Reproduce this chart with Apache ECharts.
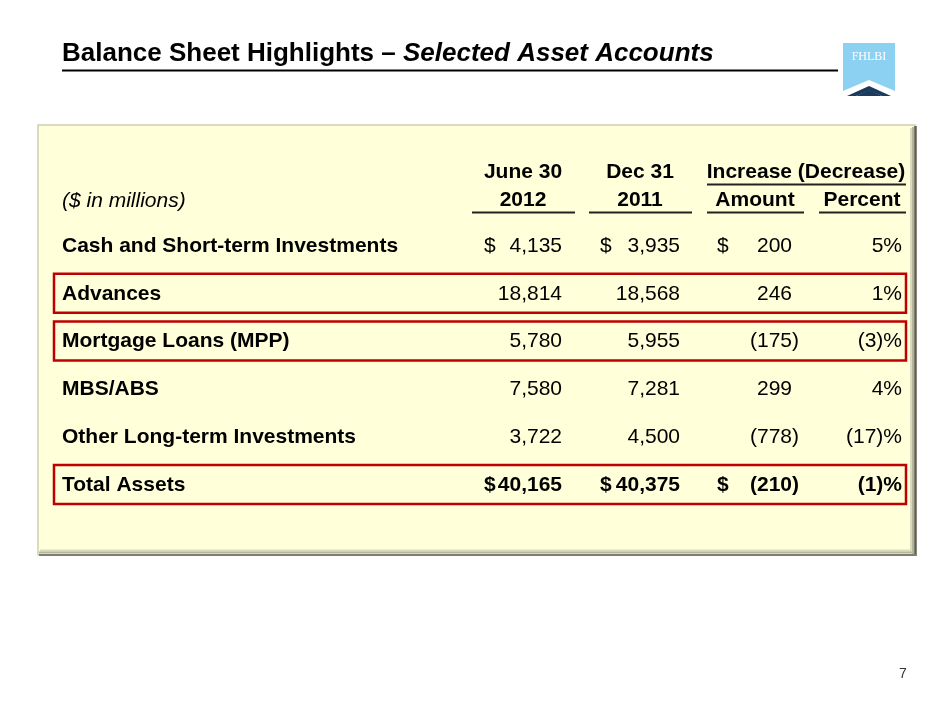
<!DOCTYPE html>
<html>
<head>
<meta charset="utf-8">
<script src="https://cdn.jsdelivr.net/npm/echarts@6/dist/echarts.min.js"></script>
<style>
html,body{margin:0;padding:0;background:#fff;}
#chart{width:940px;height:705px;}
</style>
</head>
<body>
<div id="chart"></div>
<script>
// ---- data ----
const categories = ['Cash and Short-term Investments','Advances','Mortgage Loans (MPP)','MBS/ABS','Other Long-term Investments','Total Assets'];
const june2012 = [4135, 18814, 5780, 7580, 3722, 40165];
const dec2011 = [3935, 18568, 5955, 7281, 4500, 40375];
const changeAmount = [200, 246, -175, 299, -778, -210];
const changePercent = [5, 1, -3, 4, -17, -1];
const highlightRows = ['Advances','Mortgage Loans (MPP)','Total Assets'];
const dollarRows = ['Cash and Short-term Investments','Total Assets'];
const boldRows = ['Total Assets'];
const unitNote = '($ in millions)';
const periodHeaders = ['June 30','Dec 31'];
const yearHeaders = ['2012','2011'];
const changeHeader = 'Increase (Decrease)';
const changeSubHeaders = ['Amount','Percent'];
const titleMain = 'Balance Sheet Highlights – ';
const titleSub = 'Selected Asset Accounts';
const pageNumber = '7';
const logoText = 'FHLBI';

// ---- layout / style ----
const FONT = '"Liberation Sans", Arial, Helvetica, sans-serif';
const FS = 21;
const COL = { c1Dollar: 484, c1Right: 562, c2Dollar: 600, c2Right: 680, c3Dollar: 717, c3Right: 792, c4Right: 902 };
const PAREN = 7;
const RED = '#C00000';

const fmt = v => Math.abs(v).toLocaleString('en-US');

const chart = echarts.init(document.getElementById('chart'), null, { renderer: 'canvas' });

function txt(text, x, y, align, extra) {
  return {
    type: 'text',
    style: Object.assign({
      text: text, x: x, y: y, align: align, verticalAlign: 'middle',
      fontSize: FS, fontFamily: FONT, fill: '#000'
    }, extra || {})
  };
}

function line(x1, y1, x2, y2, color, w) {
  return { type: 'line', shape: { x1, y1, x2, y2 }, style: { stroke: color, lineWidth: w } };
}

const graphics = [
  // panel
  { type: 'rect', z: -10, shape: { x: 38, y: 125, width: 877, height: 430 }, style: { fill: '#FFFFDA', stroke: '#CFCFB2', lineWidth: 1.5 } },
  Object.assign(line(911, 128, 911, 552, '#DADABF', 2), { z: -9 }),
  Object.assign(line(913, 127, 913, 554, '#B4B49B', 2), { z: -9 }),
  Object.assign(line(915.5, 126, 915.5, 556, '#5F5F55', 2.5), { z: -9 }),
  Object.assign(line(40, 550.5, 912, 550.5, '#DADABF', 2), { z: -9 }),
  Object.assign(line(39, 552.5, 914, 552.5, '#B4B49B', 2), { z: -9 }),
  Object.assign(line(39, 555, 916, 555, '#7E7E70', 2), { z: -9 }),
  // title
  {
    type: 'text', left: 62, top: 41,
    style: {
      text: '{a|' + titleMain + '}{b|' + titleSub + '}',
      rich: {
        a: { fontSize: 26, fontWeight: 'bold', fontFamily: FONT, fill: '#000' },
        b: { fontSize: 26, fontWeight: 'bold', fontStyle: 'italic', fontFamily: FONT, fill: '#000' }
      }
    }
  },
  line(62, 70.5, 838, 70.5, '#000', 2),
  // logo
  { type: 'polygon', shape: { points: [[843, 43], [895, 43], [895, 91], [869, 80], [843, 91]] }, style: { fill: '#8DD1F2' } },
  { type: 'polygon', shape: { points: [[869, 86], [891, 96], [882, 96], [869, 90.5], [856, 96], [847, 96]] }, style: { fill: '#1B3A5C' } },
  { type: 'polygon', shape: { points: [[869, 90], [882, 96], [856, 96]] }, style: { fill: '#1B3A5C' } },
  txt(logoText, 869, 57, 'center', { fontSize: 12, fontFamily: '"Liberation Serif", "DejaVu Serif", serif', fill: '#fff' }),
  // headers
  txt(unitNote, 62, 201, 'left', { fontStyle: 'italic' }),
  txt(periodHeaders[0], 523, 172, 'center', { fontWeight: 'bold' }),
  txt(periodHeaders[1], 640, 172, 'center', { fontWeight: 'bold' }),
  txt(changeHeader, 806, 172, 'center', { fontWeight: 'bold' }),
  txt(yearHeaders[0], 523, 200, 'center', { fontWeight: 'bold' }),
  txt(yearHeaders[1], 640, 200, 'center', { fontWeight: 'bold' }),
  txt(changeSubHeaders[0], 755, 200, 'center', { fontWeight: 'bold' }),
  txt(changeSubHeaders[1], 862, 200, 'center', { fontWeight: 'bold' }),
  line(707, 184.5, 906, 184.5, '#222', 2),
  line(472, 212.5, 575, 212.5, '#222', 2),
  line(589, 212.5, 692, 212.5, '#222', 2),
  line(707, 212.5, 804, 212.5, '#222', 2),
  line(819, 212.5, 906, 212.5, '#222', 2),
  // page number
  txt(pageNumber, 903, 674, 'center', { fontSize: 14, fill: '#333' })
];

const rowData = categories.map((c, i) => [0, i]);
const boxData = categories.map((c, i) => [0, i]).filter((d, i) => highlightRows.indexOf(categories[i]) >= 0);

const option = {
  animation: false,
  backgroundColor: '#fff',
  graphic: graphics,
  grid: { left: 62, right: 34, top: 222, height: 287, containLabel: false },
  xAxis: { type: 'value', min: 0, max: 1, show: false },
  yAxis: {
    type: 'category', data: categories, inverse: true,
    axisLine: { show: false }, axisTick: { show: false }, splitLine: { show: false },
    axisLabel: {
      inside: true, margin: 0, color: '#000', fontSize: FS, fontWeight: 'bold', fontFamily: FONT
    }
  },
  series: [
    {
      type: 'custom', z: 3,
      data: boxData,
      renderItem: function (params, api) {
        const c = api.coord([0, api.value(1)]);
        const cs = params.coordSys;
        return {
          type: 'rect',
          shape: { x: cs.x - 8, y: c[1] - 20, width: cs.width + 8, height: 39 },
          style: { fill: 'none', stroke: RED, lineWidth: 2.5 }
        };
      }
    },
    {
      type: 'custom', z: 4,
      data: rowData,
      renderItem: function (params, api) {
        const i = api.value(1);
        const y = api.coord([0, i])[1];
        const cat = categories[i];
        const bold = boldRows.indexOf(cat) >= 0;
        const dollar = dollarRows.indexOf(cat) >= 0;
        const ex = bold ? { fontWeight: 'bold' } : {};
        const kids = [];
        kids.push(txt(fmt(june2012[i]), COL.c1Right, y, 'right', ex));
        kids.push(txt(fmt(dec2011[i]), COL.c2Right, y, 'right', ex));
        const a = changeAmount[i];
        kids.push(txt(a < 0 ? '(' + fmt(a) + ')' : fmt(a), a < 0 ? COL.c3Right + PAREN : COL.c3Right, y, 'right', ex));
        const p = changePercent[i];
        kids.push(txt(p < 0 ? '(' + Math.abs(p) + ')%' : p + '%', COL.c4Right, y, 'right', ex));
        if (dollar) {
          kids.push(txt('$', COL.c1Dollar, y, 'left', ex));
          kids.push(txt('$', COL.c2Dollar, y, 'left', ex));
          kids.push(txt('$', COL.c3Dollar, y, 'left', ex));
        }
        return { type: 'group', children: kids };
      }
    }
  ]
};
chart.setOption(option);
</script>
</body>
</html>
